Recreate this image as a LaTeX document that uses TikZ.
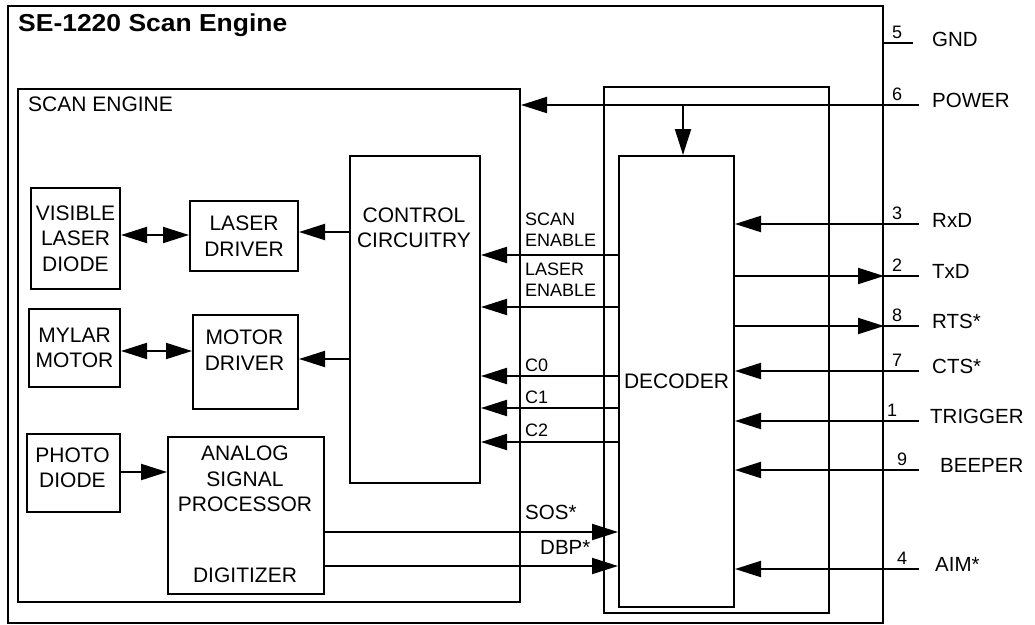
\documentclass[tikz,border=0pt]{standalone}
\usepackage{fontspec}
\setmainfont{Liberation Sans}
\usepackage{tikz}
\usetikzlibrary{arrows.meta,calc}

\begin{document}
\begin{tikzpicture}[
  x=1pt,y=-1pt,
  box/.style={draw,line width=2pt,inner sep=0pt,anchor=north west,align=center,font=\fontsize{21}{25.5}\selectfont},
  txt/.style={inner sep=0pt,align=center,font=\fontsize{21}{25.5}\selectfont},
  sig/.style={inner sep=0pt,anchor=west,align=left,font=\fontsize{18}{21}\selectfont},
  pinno/.style={inner sep=0pt,anchor=south west,font=\fontsize{18}{18}\selectfont},
  pinname/.style={inner sep=0pt,anchor=west,font=\fontsize{20.5}{20.5}\selectfont},
  line/.style={line width=2pt},
  arr/.style={line width=2pt,-{Triangle[length=26pt,width=16pt]}},
  darr/.style={line width=2pt,{Triangle[length=26pt,width=16pt]}-{Triangle[length=26pt,width=16pt]}}
]
  \useasboundingbox (0,0) rectangle (1035,624);

  % frames
  \node[box,minimum width=875pt,minimum height=617pt] (outer) at (7,5) {};
  \node[box,minimum width=502pt,minimum height=513pt] (seng) at (17,88) {};
  \node[box,minimum width=225pt,minimum height=526pt] (decf) at (603,86) {};
  \node[txt,anchor=base west,font=\bfseries\fontsize{24.5}{24.5}\selectfont,xscale=1.08] (title) at (18,31) {SE-1220 Scan Engine};
  \node[txt,anchor=west] (sengtxt) at (28,104) {SCAN ENGINE};

  % blocks
  \node[box,minimum width=115pt,minimum height=451pt] (dec) at (618,155) {DECODER};
  \node[box,minimum width=130pt,minimum height=327pt] (ctrl) at (349,155) {};
  \node[txt] (ctrltxt) at (414,228) {CONTROL\\CIRCUITRY};
  \node[box,minimum width=89pt,minimum height=101pt] (vld) at (30,187) {VISIBLE\\LASER\\DIODE};
  \node[box,minimum width=108pt,minimum height=70pt] (ldrv) at (189,200) {LASER\\DRIVER};
  \node[box,minimum width=91pt,minimum height=78pt] (mylar) at (28,308) {MYLAR\\MOTOR};
  \node[box,minimum width=105pt,minimum height=94pt] (mdrv) at (192,314) {};
  \node[txt] (mdrvtxt) at (244.5,350) {MOTOR\\DRIVER};
  \node[box,minimum width=93pt,minimum height=78pt] (photo) at (26,433) {};
  \node[txt] (phototxt) at (72.5,468) {PHOTO\\DIODE};
  \node[box,minimum width=156pt,minimum height=157pt] (asp) at (167,436) {};
  \node[txt] (asptxt) at (245,479) {ANALOG\\SIGNAL\\PROCESSOR};
  \node[txt] (digtxt) at (245,575) {DIGITIZER};

  % inside the scan engine
  \draw[darr] (vld.east |- 0,235) -- (ldrv.west |- 0,235);
  \draw[darr] (mylar.east |- 0,351) -- (mdrv.west |- 0,351);
  \draw[arr] (photo.east |- 0,472) -- (asp.west |- 0,472);
  \draw[arr] (ctrl.west |- 0,232) -- (ldrv.east |- 0,232);
  \draw[arr] (ctrl.west |- 0,359) -- (mdrv.east |- 0,359);

  % decoder to scan engine
  \draw[arr] (dec.west |- 0,255) -- (ctrl.east |- 0,255);
  \draw[arr] (dec.west |- 0,307) -- (ctrl.east |- 0,307);
  \draw[arr] (dec.west |- 0,376) -- (ctrl.east |- 0,376);
  \draw[arr] (dec.west |- 0,408) -- (ctrl.east |- 0,408);
  \draw[arr] (dec.west |- 0,442) -- (ctrl.east |- 0,442);
  \draw[arr] (asp.east |- 0,532) -- (dec.west |- 0,532);
  \draw[arr] (asp.east |- 0,566) -- (dec.west |- 0,566);
  \node[sig] (scanen) at (525,229.5) {SCAN\\ENABLE};
  \node[sig] (laseren) at (525,280) {LASER\\ENABLE};
  \node[sig] (czero) at (525,365) {C0};
  \node[sig] (cone) at (525,397) {C1};
  \node[sig] (ctwo) at (525,430) {C2};
  \node[sig,font=\fontsize{20.5}{20.5}\selectfont] (sos) at (525,512) {SOS*};
  \node[sig,font=\fontsize{20.5}{20.5}\selectfont] (dbp) at (540,547) {DBP*};

  % connector pins
  \coordinate (pGND) at (913,43);
  \coordinate (pPOW) at (919,105);
  \coordinate (pRXD) at (919,224);
  \coordinate (pTXD) at (919,276);
  \coordinate (pRTS) at (919,326);
  \coordinate (pCTS) at (919,371);
  \coordinate (pTRG) at (919,421);
  \coordinate (pBEEP) at (919,470);
  \coordinate (pAIM) at (919,569);
  \coordinate (ptap) at (683,105);

  \draw[line] (pGND -| outer.east) -- (pGND);
  \draw[arr] (pPOW) -- (pPOW -| seng.east);
  \draw[arr] (ptap) -- (ptap |- dec.north);
  \draw[arr] (pRXD) -- (pRXD -| dec.east);
  \draw[arr] (pTXD -| dec.east) -- (pTXD -| outer.east);
  \draw[line] (pTXD -| outer.east) -- (pTXD);
  \draw[arr] (pRTS -| dec.east) -- (pRTS -| outer.east);
  \draw[line] (pRTS -| outer.east) -- (pRTS);
  \draw[arr] (pCTS) -- (pCTS -| dec.east);
  \draw[arr] (pTRG) -- (pTRG -| dec.east);
  \draw[arr] (pBEEP) -- (pBEEP -| dec.east);
  \draw[arr] (pAIM) -- (pAIM -| dec.east);

  \node[pinno] (nGND) at (892,39) {5};
  \node[pinno] (nPOW) at (892,101) {6};
  \node[pinno] (nRXD) at (892,220) {3};
  \node[pinno] (nTXD) at (892,272) {2};
  \node[pinno] (nRTS) at (892,322) {8};
  \node[pinno] (nCTS) at (892,367) {7};
  \node[pinno] (nTRG) at (887,417) {1};
  \node[pinno] (nBEEP) at (897,466) {9};
  \node[pinno] (nAIM) at (897,565) {4};

  \node[pinname] (lGND) at (932,39) {GND};
  \node[pinname] (lPOW) at (932,100) {POWER};
  \node[pinname] (lRXD) at (932,220) {RxD};
  \node[pinname] (lTXD) at (932,271) {TxD};
  \node[pinname] (lRTS) at (932,321) {RTS*};
  \node[pinname] (lCTS) at (932,366) {CTS*};
  \node[pinname] (lTRG) at (930,416) {TRIGGER};
  \node[pinname] (lBEEP) at (940,465) {BEEPER};
  \node[pinname] (lAIM) at (935,564) {AIM*};
\end{tikzpicture}
\end{document}
